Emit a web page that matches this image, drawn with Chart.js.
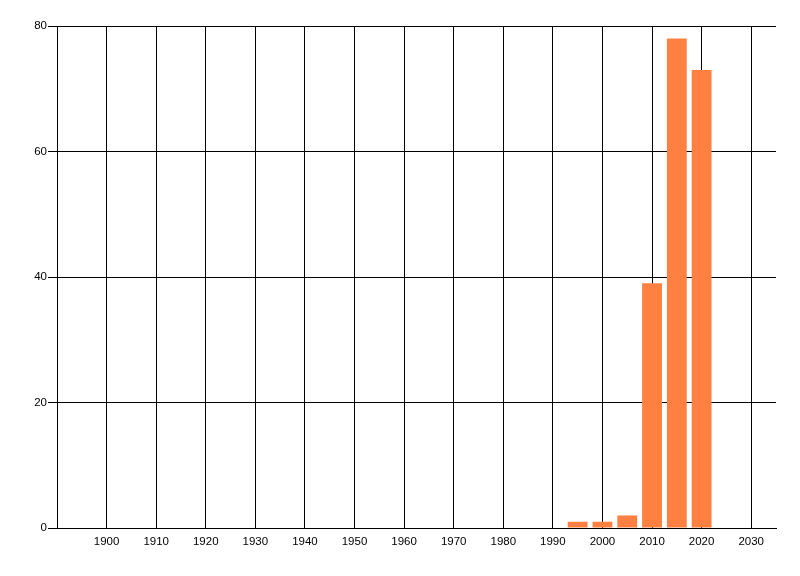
<!DOCTYPE html>
<html>
<head>
<meta charset="utf-8">
<script src="https://cdn.jsdelivr.net/npm/chart.js@4"></script>
<style>
    html, body { margin: 0; padding: 0; background: #ffffff; }
    #year_chart { display: block; }
</style>
</head>
<body>
<canvas id="year_chart" width="800" height="576"></canvas>
<script>
// Data
const years = [1995, 2000, 2005, 2010, 2015, 2020];
const counts = [1, 1, 2, 39, 78, 73];
const year_ticks = [1900, 1910, 1920, 1930, 1940, 1950, 1960, 1970, 1980, 1990, 2000, 2010, 2020, 2030];
const count_ticks = [0, 20, 40, 60, 80];

const year_canvas = document.getElementById('year_chart');

const year_data = {
    datasets: [{
        label: 'count',
        data: years.map((y, i) => ({x: y, y: counts[i]})),
        backgroundColor: '#ff8040',
        borderWidth: 0,
        barPercentage: 0.8,
        categoryPercentage: 1.0,
    }]
};

const year_config = {
  type: 'bar',
  data: year_data,
  options: {responsive: false,
    animation: false,
    layout: {
        padding: {top: 26, right: 24, bottom: 18, left: 0}
    },
    plugins: {
        legend: {
            display: false,
        },
        tooltip: {
            enabled: false,
        }
    },
    scales: {
        x: {
            type: 'linear',
            min: 1890,
            max: 2035,
            offset: false,
            afterBuildTicks: (scale) => {
                scale.ticks = year_ticks.map(v => ({value: v}));
            },
            afterFit: (scale) => { scale.height = 30; },
            ticks: {
                color: '#000000',
                padding: 7,
                maxRotation: 0,
                autoSkip: false,
                callback: (value) => String(value),
                font: {family: 'Liberation Sans', size: 11.5},
            },
            grid: {
                color: '#000000',
                lineWidth: 1,
                offset: false,
                drawTicks: false,
            },
            border: {
                color: '#000000',
                width: 1,
            }
        },
        y: {
            min: 0,
            max: 80,
            afterBuildTicks: (scale) => {
                scale.ticks = count_ticks.map(v => ({value: v}));
            },
            afterFit: (scale) => { scale.width = 57; },
            ticks: {
                color: '#000000',
                padding: 1,
                callback: (value) => String(value),
                font: {family: 'Liberation Sans', size: 11.5},
            },
            grid: {
                color: '#000000',
                lineWidth: 1,
                tickLength: 9,
            },
            border: {
                color: '#000000',
                width: 1,
            }
        }
    }}
};

const yearChart = new Chart(
    year_canvas,
    year_config
);
</script>
</body>
</html>
